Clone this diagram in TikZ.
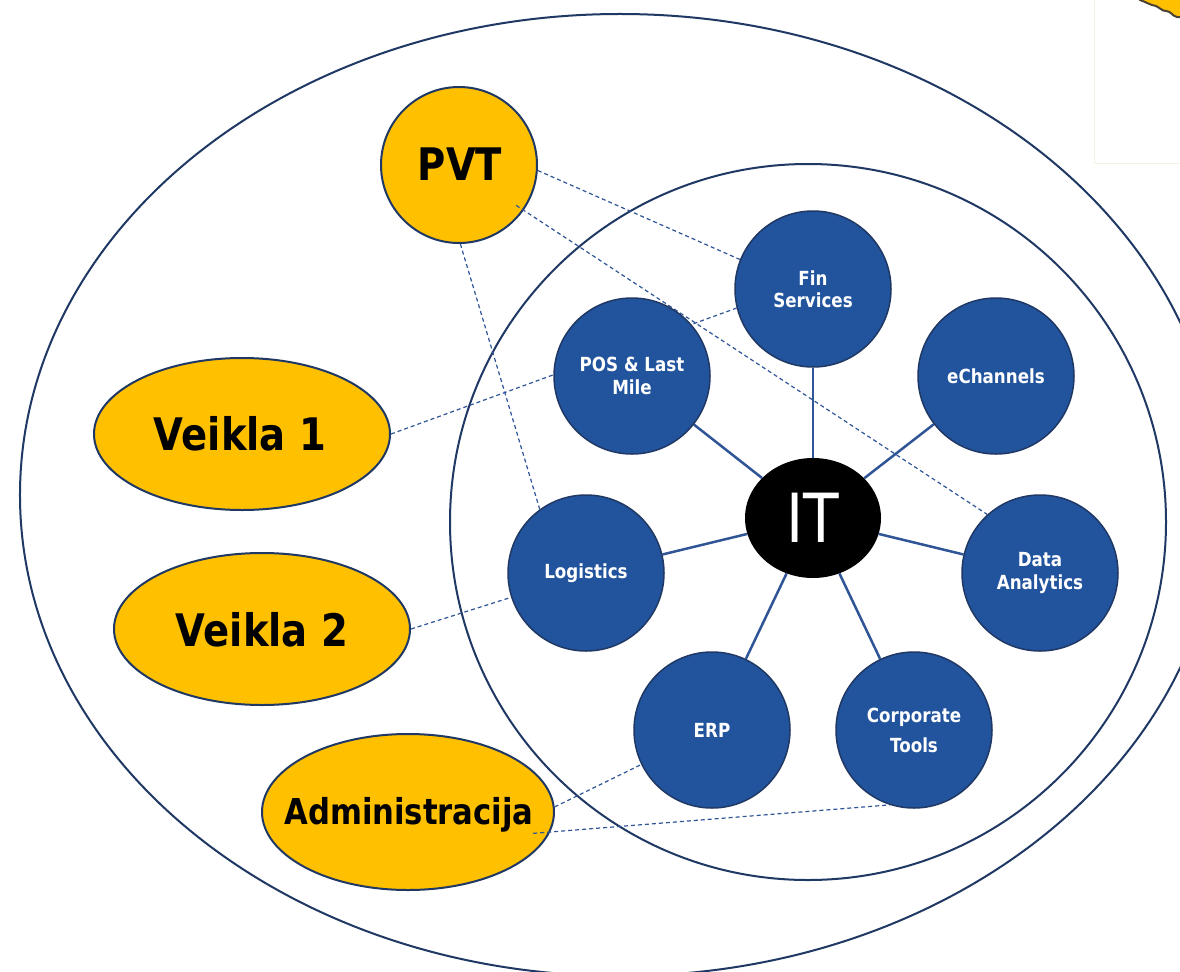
\documentclass[tikz,border=0pt]{standalone}
\usepackage{fontspec}
\setmainfont[FakeStretch=0.86]{DejaVu Sans}
\usetikzlibrary{shapes.geometric}
\definecolor{navy}{HTML}{1F3864}
\definecolor{linkblue}{HTML}{2F5597}
\definecolor{fillblue}{HTML}{22549E}
\definecolor{gold}{HTML}{FFC000}
\definecolor{paleframe}{HTML}{F4F1E0}
\definecolor{blobline}{HTML}{4A4232}
\begin{document}
\begin{tikzpicture}[x=1bp,y=-1bp,
  bigring/.style={draw=navy,line width=2bp},
  bluedot/.style={circle,draw=navy,line width=1.5bp,fill=fillblue,minimum size=156bp,inner sep=0pt,
    text=white,font=\bfseries\fontsize{19.5}{22.5}\selectfont,align=center},
  golddot/.style={circle,draw=navy,line width=2bp,fill=gold,minimum size=156bp,inner sep=0pt},
  goldoval/.style={ellipse,draw=navy,line width=2bp,fill=gold,inner sep=0pt},
  goldtext/.style={anchor=base,inner sep=0pt,text=black,font=\bfseries\fontsize{45}{50}\selectfont},
  spoke/.style={draw=linkblue,line width=2.5bp},
  dashlink/.style={draw=linkblue,line width=1.2bp,dash pattern=on 4bp off 3bp}]
\useasboundingbox (0,0) rectangle (1180,972);
\fill[white] (0,0) rectangle (1180,972);
% top-right fragment
\draw[paleframe,line width=1bp] (1094,-2) -- (1094,163) -- (1182,163);
\filldraw[fill=gold,draw=blobline,line width=2bp] (1138,-3) -- (1140,0) .. controls (1146,2) and (1150,5) .. (1156,6)
  .. controls (1160,7) and (1161,11) .. (1166,11) .. controls (1171,11) and (1172,16) .. (1177,17) -- (1183,17) -- (1183,-3) -- cycle;
% rings
\node[bigring,ellipse,minimum width=1200bp,minimum height=962bp,inner sep=0pt] (outer) at (620,495) {};
\node[bigring,circle,minimum size=716bp,inner sep=0pt] (inner) at (808,522) {};
% gold nodes
\node[golddot] (pvt) at (459,165) {};
\node[goldtext] (pvtt) at (460,180) {PVT};
\node[goldoval,minimum width=296bp,minimum height=152bp] (v1) at (242,434) {};
\node[goldtext] (v1t) at (240,450) {Veikla 1};
\node[goldoval,minimum width=296bp,minimum height=152bp] (v2) at (262,629) {};
\node[goldtext] (v2t) at (262,646) {Veikla 2};
\node[goldoval,minimum width=292bp,minimum height=156bp] (adm) at (408,812) {};
\node[goldtext,font=\bfseries\fontsize{35.8}{40}\selectfont] (admt) at (409,824) {Administracija};
% coordinates of blue nodes
\coordinate (cfin) at (813,289);
\coordinate (cech) at (996,376);
\coordinate (cpos) at (632,376);
\coordinate (clog) at (586,573);
\coordinate (cda) at (1040,573);
\coordinate (cerp) at (712,730);
\coordinate (cct) at (914,730);
\coordinate (cit) at (813,518);
% IT node and blue node shapes for anchors
\node[ellipse,minimum width=136bp,minimum height=120bp,inner sep=0pt] (it) at (cit) {};
\node[bluedot,draw=none,fill=none] (fin) at (cfin) {};
\node[bluedot,draw=none,fill=none] (ech) at (cech) {};
\node[bluedot,draw=none,fill=none] (pos) at (cpos) {};
\node[bluedot,draw=none,fill=none] (log) at (clog) {};
\node[bluedot,draw=none,fill=none] (da) at (cda) {};
\node[bluedot,draw=none,fill=none] (erp) at (cerp) {};
\node[bluedot,draw=none,fill=none] (ct) at (cct) {};
% dashed links
\draw[dashlink] (pvt.-4) -- (fin.158);
\draw[dashlink,shorten <=-9bp] (pvt.-35) -- (da.132);
\draw[dashlink] (pvt.-89) -- (log.126);
\draw[dashlink] (v1.east) -- (fin.-166);
\draw[dashlink] (v2.east) -- (log.-162);
\draw[dashlink] (adm.2) -- (erp.-154);
\draw[dashlink,shorten <=-17bp] (adm.-8) -- (ct.-108);
% spokes
\foreach \t in {fin,ech,pos,log,da,erp,ct}{\draw[spoke] (it) -- (\t);}
% blue nodes
\node[bluedot] (finb) at (cfin) {Fin\\Services};
\node[bluedot] (echb) at (cech) {eChannels};
\node[bluedot] (posb) at (cpos) {POS \& Last\\Mile};
\node[bluedot] (logb) at (clog) {Logistics};
\node[bluedot] (dab) at (cda) {Data\\Analytics};
\node[bluedot] (erpb) at (cerp) {ERP};
\node[bluedot,font=\bfseries\fontsize{19.5}{30}\selectfont] (ctb) at (cct) {Corporate\\Tools};
\node[ellipse,fill=black,minimum width=136bp,minimum height=120bp,inner sep=0pt,text=white,
  font=\fontsize{68}{70}\selectfont] (itb) at (cit) {IT};
\end{tikzpicture}
\end{document}
